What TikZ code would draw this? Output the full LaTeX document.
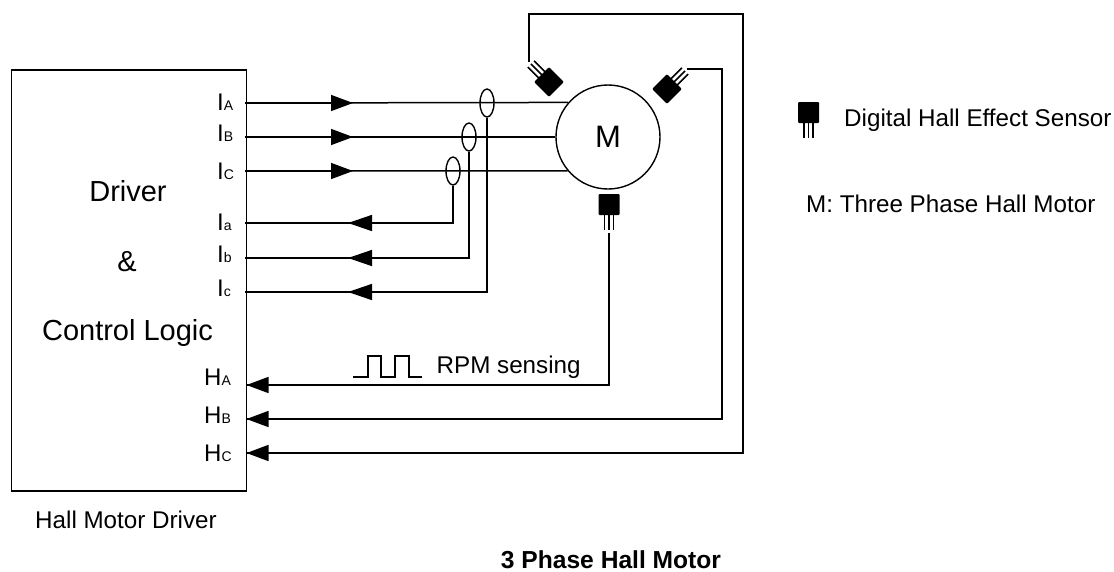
\documentclass[tikz,border=0pt]{standalone}
\usepackage{fontspec}
\setmainfont{Liberation Sans}
\usetikzlibrary{arrows.meta,shapes.geometric}
\newcommand{\fs}[1]{\fontsize{#1}{#1}\selectfont}
\newcommand{\subs}[2]{#1{\fs{14}#2}}
\tikzset{
  x=1pt,y=-1pt,
  wire/.style={draw=black,line width=1.5pt,line cap=butt,line join=miter},
  thin wire/.style={draw=black,line width=1.2pt},
  lead wire/.style={draw=black,line width=1.5pt},
  head/.style={-{Triangle[length=22pt,width=16pt]}},
  headback/.style={-{Triangle[length=24pt,width=16pt]}},
  sig/.style={inner sep=0pt,anchor=base west,font=\fs{24}},
  lbl/.style={inner sep=0pt,anchor=base,font=\fs{29}},
  txt/.style={inner sep=0pt,anchor=base west,font=\fs{24.2}},
  oval/.style={draw=black,line width=1.4pt,ellipse,minimum width=14pt,minimum height=28pt,inner sep=0pt},
  hallsensor/.pic={
    \fill[black,rounded corners=1pt] (-10.5,-10.5) rectangle (10.5,10.5);
    \draw[lead wire] (-4.4,10) -- (-4.4,25.5) (0,10) -- (0,25.5) (4.4,10) -- (4.4,25.5);
    \coordinate (-lead) at (0,28);
  }
}
\begin{document}
\begin{tikzpicture}
\useasboundingbox (0,0) rectangle (1114,571);
% driver box
\node[draw=black,line width=1.5pt,minimum width=235pt,minimum height=421pt,inner sep=0pt,anchor=north west] (drv) at (10.5,69) {};
\node[lbl] (t1) at (128,201) {Driver};
\node[lbl] (t2) at (127,271) {\&};
\node[lbl] (t3) at (127.5,340) {Control Logic};
\node[sig] (lA) at (217,110) {\subs{I}{A}};
\node[sig] (lB) at (217,141) {\subs{I}{B}};
\node[sig] (lC) at (217,179) {\subs{I}{C}};
\node[sig] (la) at (217,230) {\subs{I}{a}};
\node[sig] (lb) at (217,262) {\subs{I}{b}};
\node[sig] (lc) at (217,296) {\subs{I}{c}};
\node[sig] (lHA) at (204,385) {\subs{H}{A}};
\node[sig] (lHB) at (204,423) {\subs{H}{B}};
\node[sig] (lHC) at (204,461) {\subs{H}{C}};
% motor
\node[draw=black,line width=1.4pt,circle,minimum size=104pt,inner sep=0pt,font=\fs{31}] (M) at (608,137) {M};
% ports on driver
\coordinate (pA) at (245,103);
\coordinate (pB) at (245,137);
\coordinate (pC) at (245,171);
\coordinate (pa) at (245,223);
\coordinate (pb) at (245,258);
\coordinate (pc) at (245,292);
\coordinate (pHA) at (246.5,385);
\coordinate (pHB) at (246.5,419);
\coordinate (pHC) at (246.5,453);
% phase lines
\draw[wire] (pA) -- (M.139.2);
\draw[wire] (pB) -- (M.west);
\draw[wire] (pC) -- (M.220.8);
\draw[wire,head] (pA) -- +(108,0);
\draw[wire,head] (pB) -- +(108,0);
\draw[wire,head] (pC) -- +(108,0);
% current sense ovals
\node[oval] (oA) at (487,103) {};
\node[oval] (oB) at (469,137) {};
\node[oval] (oC) at (453,171) {};
\draw[wire] (oC.south) |- (pa);
\draw[wire] (oB.south) |- (pb);
\draw[wire] (oA.south) |- (pc);
\draw[wire,headback] (oC.south |- pa) -- (348,223);
\draw[wire,headback] (oB.south |- pb) -- (348,258);
\draw[wire,headback] (oA.south |- pc) -- (348,292);
% hall sensors
\pic (sl) at (549,82) [rotate=-135] {hallsensor};
\pic (sr) at (667,89) [rotate=135] {hallsensor};
\pic (sb) at (609,204.5) {hallsensor};
\coordinate (c1) at (743,14);
\coordinate (c2) at (722,419);
\draw[wire] (sb-lead) |- (pHA);
\draw[wire] (sr-lead) -| (c2) -- (pHB);
\draw[wire] (sl-lead) |- (c1) |- (pHC);
\draw[wire,head] (300,385) -- (pHA);
\draw[wire,head] (300,419) -- (pHB);
\draw[wire,head] (300,453) -- (pHC);
% RPM pulse
\coordinate (pu) at (353,377);
\draw[thin wire] (pu) -- ++(15,0) -- ++(0,-21) -- ++(13,0) -- ++(0,21) -- ++(14,0) -- ++(0,-21) -- ++(14,0) -- ++(0,21) -- ++(13,0);
\node[txt] (rpm) at (436.5,373) {RPM sensing};
% legend
\pic (leg) at (808.5,112.5) {hallsensor};
\node[txt] (l1) at (844,126) {Digital Hall Effect Sensor};
\node[txt] (l2) at (806,212.5) {M: Three Phase Hall Motor};
\node[txt] (cap) at (35,528) {Hall Motor Driver};
\node[inner sep=0pt,anchor=base,font=\fs{24.6}\bfseries] (title) at (611,568) {3 Phase Hall Motor};
\end{tikzpicture}
\end{document}
